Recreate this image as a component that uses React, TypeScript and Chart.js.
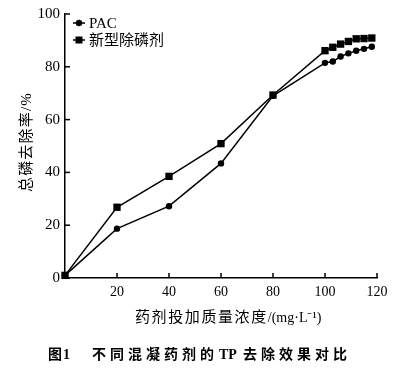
import React, { useEffect, useRef } from 'react';
import { Chart, registerables } from 'chart.js';

Chart.register(...registerables);

const doses = [0, 20, 40, 60, 80, 100, 103, 106, 109, 112, 115, 118];
const pacRemoval = [1, 18.7, 27.2, 43.4, 69, 81.5, 82, 83.9, 85.1, 86.1, 86.8, 87.6];
const newAgentRemoval = [1, 26.8, 38.5, 50.9, 69.3, 86.1, 87.4, 88.6, 89.6, 90.6, 90.7, 90.9];
const seriesNames = ['PAC', '新型除磷剂'];
const xTickValues = [20, 40, 60, 80, 100, 120];
const yTickValues = [0, 20, 40, 60, 80, 100];
const xTitleParts = ['药剂投加质量浓度', '/(mg·L⁻¹)'];
const yTitle = '总磷去除率/%';
const captionParts = ['图1', '不同混凝药剂的', 'TP', '去除效果对比'];

const SERIF = '"Liberation Serif", "Noto Sans CJK SC", serif';

type Seg = { text: string; font: string; spacing: number; gap: number; at?: number };

function drawSegments(ctx: any, segs: Seg[], x: number, y: number) {
  let cx = x;
  segs.forEach((s) => {
    cx = s.at !== undefined ? s.at : cx + s.gap;
    ctx.font = s.font;
    ctx.letterSpacing = `${s.spacing}px`;
    ctx.fillText(s.text, cx, y);
    cx += ctx.measureText(s.text).width;
  });
  ctx.letterSpacing = '0px';
}

const decorPlugin = {
  id: 'decor',
  afterDraw(chart: any) {
    const ctx = chart.ctx;
    const xs = chart.scales.x;
    const ys = chart.scales.y;
    const area = chart.chartArea;
    ctx.save();
    ctx.strokeStyle = '#000';
    ctx.lineWidth = 1.5;
    // inward ticks
    xTickValues.forEach((v) => {
      const px = xs.getPixelForValue(v);
      ctx.beginPath();
      ctx.moveTo(px, area.bottom);
      ctx.lineTo(px, area.bottom - 5);
      ctx.stroke();
    });
    yTickValues.forEach((v) => {
      const py = ys.getPixelForValue(v);
      ctx.beginPath();
      ctx.moveTo(area.left, py);
      ctx.lineTo(area.left + 5, py);
      ctx.stroke();
    });
    // legend
    const lx = area.left + 8;
    const rows = [
      { y: area.top + 9, style: 'circle' },
      { y: area.top + 26, style: 'rect' },
    ];
    rows.forEach((r, i) => {
      ctx.strokeStyle = '#000';
      ctx.lineWidth = 1.5;
      ctx.beginPath();
      ctx.moveTo(lx, r.y);
      ctx.lineTo(lx + 12, r.y);
      ctx.stroke();
      ctx.fillStyle = '#000';
      if (r.style === 'circle') {
        ctx.beginPath();
        ctx.arc(lx + 6, r.y, 3.2, 0, Math.PI * 2);
        ctx.fill();
      } else {
        ctx.fillRect(lx + 2.5, r.y - 3.5, 7, 7);
      }
      ctx.font = `15px ${SERIF}`;
      ctx.textAlign = 'left';
      ctx.textBaseline = 'middle';
      ctx.fillText(seriesNames[i], lx + 16, r.y + 1);
    });
    ctx.fillStyle = '#000';
    ctx.textBaseline = 'middle';
    // x title
    ctx.textAlign = 'left';
    drawSegments(
      ctx,
      [
        { text: xTitleParts[0], font: `15px ${SERIF}`, spacing: 1.6, gap: 0 },
        { text: xTitleParts[1], font: `14px ${SERIF}`, spacing: 0, gap: 0 },
      ],
      135,
      318
    );
    // y title
    ctx.save();
    ctx.translate(27, 142);
    ctx.rotate(-Math.PI / 2);
    ctx.textAlign = 'center';
    ctx.font = `15px ${SERIF}`;
    ctx.letterSpacing = '1.2px';
    ctx.fillText(yTitle, 0, 0);
    ctx.restore();
    // caption
    ctx.textAlign = 'left';
    drawSegments(
      ctx,
      [
        { text: captionParts[0], font: `bold 14px ${SERIF}`, spacing: 1, gap: 0 },
        { text: captionParts[1], font: `bold 14px ${SERIF}`, spacing: 4, gap: 0, at: 92 },
        { text: captionParts[2], font: `bold 14px ${SERIF}`, spacing: 0, gap: 1 },
        { text: captionParts[3], font: `bold 14px ${SERIF}`, spacing: 4, gap: 6 },
      ],
      48,
      355
    );
    ctx.restore();
  },
};

export default function App() {
  const ref = useRef<HTMLCanvasElement | null>(null);
  useEffect(() => {
    document.body.style.margin = '0';
    const canvas = ref.current;
    if (!canvas) return;
    const chart = new Chart(canvas, {
      type: 'line',
      data: {
        datasets: [
          {
            label: seriesNames[0],
            data: doses.map((d, i) => ({ x: d, y: pacRemoval[i] })),
            borderColor: '#000',
            backgroundColor: '#000',
            borderWidth: 1.5,
            pointStyle: 'circle',
            pointRadius: 3.2,
            pointBorderWidth: 0,
            tension: 0,
          },
          {
            label: seriesNames[1],
            data: doses.map((d, i) => ({ x: d, y: newAgentRemoval[i] })),
            borderColor: '#000',
            backgroundColor: '#000',
            borderWidth: 1.5,
            pointStyle: 'rect',
            pointRadius: 5.2,
            pointBorderWidth: 0,
            tension: 0,
          },
        ],
      },
      options: {
        animation: false,
        responsive: false,
        devicePixelRatio: 1,
        clip: false,
        layout: { padding: { top: 12, right: 32, left: 0, bottom: 0 } },
        plugins: {
          legend: { display: false },
          tooltip: { enabled: false },
          title: { display: false },
        },
        scales: {
          x: {
            type: 'linear',
            min: 0,
            max: 120,
            afterFit: (s: any) => {
              s.height = 93;
            },
            afterBuildTicks: (s: any) => {
              s.ticks = [0, ...xTickValues].map((v) => ({ value: v }));
            },
            grid: { display: false, drawTicks: false },
            border: { display: true, color: '#000', width: 1.5 },
            ticks: {
              color: '#000',
              padding: 6,
              font: { family: SERIF, size: 14 },
              callback: (v: any) => (v === 0 ? '' : String(v)),
              maxRotation: 0,
            },
          },
          y: {
            type: 'linear',
            min: 0,
            max: 100,
            afterFit: (s: any) => {
              s.width = 65;
            },
            afterBuildTicks: (s: any) => {
              s.ticks = yTickValues.map((v) => ({ value: v }));
            },
            grid: { display: false, drawTicks: false },
            border: { display: true, color: '#000', width: 1.5 },
            ticks: {
              color: '#000',
              padding: 5,
              font: { family: SERIF, size: 15 },
            },
          },
        },
      },
      plugins: [decorPlugin],
    });
    return () => chart.destroy();
  }, []);
  return (
    <div style={{ position: 'fixed', left: 0, top: 0, width: 409, height: 371, background: '#fff' }}>
      <canvas ref={ref} width={409} height={371} style={{ width: 409, height: 371 }} />
    </div>
  );
}
